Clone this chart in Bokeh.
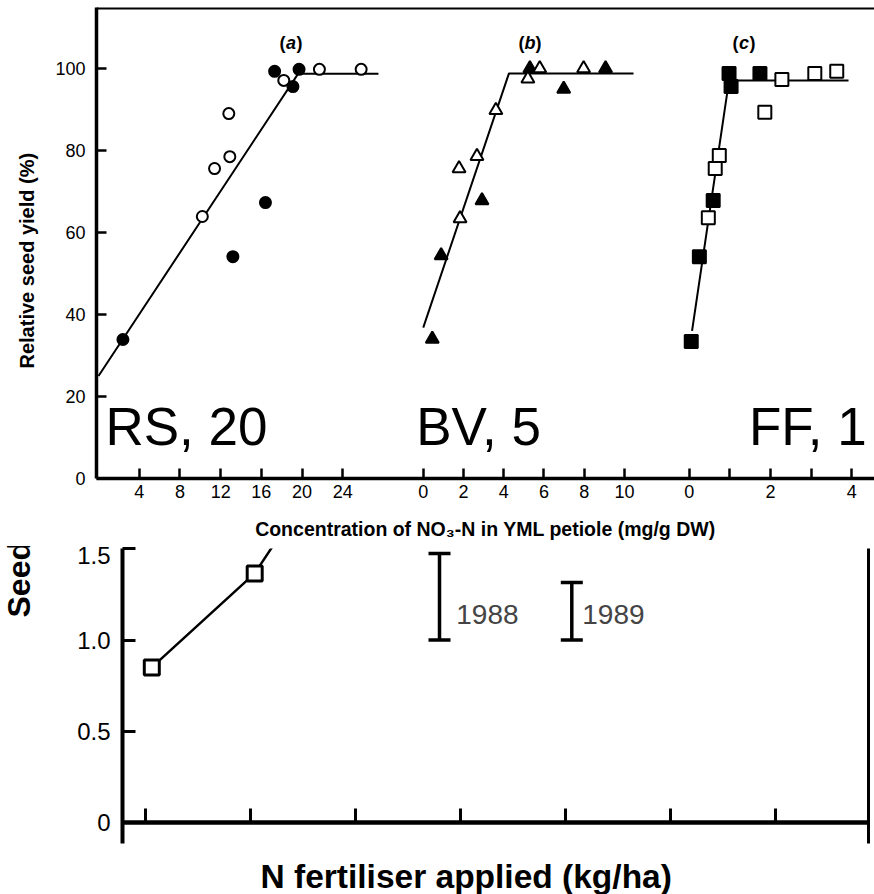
import math
from bokeh.plotting import figure
from bokeh.models import (Range1d, LinearAxis, FixedTicker, Label, Span,
                          Whisker, TeeHead, ColumnDataSource, Title)
from bokeh.embed import file_html
from bokeh.resources import INLINE

# ---------------- data: upper chart ----------------
rs_open_x = [10.2, 11.4, 12.9, 12.8, 18.2, 21.7, 25.8]
rs_open_y = [63.9, 75.6, 78.5, 89.0, 97.1, 99.8, 99.8]
rs_filled_x = [2.4, 13.2, 16.4, 17.3, 19.1, 19.7]
rs_filled_y = [33.9, 54.1, 67.3, 99.3, 95.6, 99.8]
rs_fit_x = [0.0, 19.6, 27.5]
rs_fit_y = [25.0, 98.7, 98.7]

bv_open_x = [1.78, 1.83, 2.67, 3.61, 5.2, 5.79, 7.97]
bv_open_y = [75.6, 63.4, 78.6, 89.8, 97.5, 100.0, 100.0]
bv_filled_x = [0.45, 0.89, 2.92, 5.3, 6.98, 9.06]
bv_filled_y = [34.0, 54.4, 67.8, 100.0, 95.0, 100.0]
bv_fit_x = [0.0, 4.26, 10.45]
bv_fit_y = [36.8, 98.8, 98.8]

ff_open_x = [0.47, 0.64, 0.74, 1.86, 2.28, 3.09, 3.63]
ff_open_y = [63.6, 75.6, 78.8, 89.3, 97.3, 98.8, 99.3]
ff_filled_x = [0.05, 0.25, 0.59, 0.98, 1.03, 1.74]
ff_filled_y = [33.4, 54.1, 67.8, 98.8, 95.6, 98.8]
ff_fit_x = [0.07, 0.98, 3.92]
ff_fit_y = [36.0, 97.1, 97.1]

panel_names = ["RS, 20", "BV, 5", "FF, 1"]
panel_letters = ["a", "b", "c"]
rs_ticks = [4, 8, 12, 16, 20, 24]
rs_tick_labels = ["4", "8", "12", "16", "20", "24"]
bv_ticks = [0, 2, 4, 6, 8, 10]
bv_tick_labels = ["0", "2", "4", "6", "8", "10"]
ff_ticks = [0, 1, 2, 3, 4]
ff_tick_labels = ["0", "", "2", "", "4"]
yield_ticks = [0, 20, 40, 60, 80, 100]
yield_tick_labels = ["0", "20", "40", "60", "80", "100"]

# ---------------- data: lower chart ----------------
n_rate = [3, 52, 100]
seed_yield = [0.85, 1.365, 2.2]
lsd_x = [140, 203]
lsd_upper = [1.474, 1.315]
lsd_lower = [1.0, 1.0]
lsd_years = ["1988", "1989"]
n_ticks = [0, 50, 100, 150, 200, 250, 300]
seed_ticks = [0, 0.5, 1.0, 1.5]
seed_tick_labels = ["0", "0.5", "1.0", "1.5"]

FONT = "Liberation Sans"

# ---------------- layout (upper) ----------------
W = 874
H1 = 546
FRAME_L, FRAME_R = 93, 874
FRAME_T, FRAME_B = 7, 478
PX_PER_PCT = 4.1
P_ORIGIN = [95, 421, 688]      # page px of each panel's x=0
P_SCALE = [10.22, 20.2, 40.8]  # px per unit in each panel


def prange(k):
    o, s = P_ORIGIN[k], P_SCALE[k]
    return Range1d((FRAME_L - o) / s, (FRAME_R - o) / s)


def to_a(k, v):
    px = P_ORIGIN[k] + P_SCALE[k] * v
    return round((px - P_ORIGIN[0]) / P_SCALE[0], 4)


y_end = (FRAME_B - FRAME_T) / PX_PER_PCT
p1 = figure(width=W, height=H1, x_range=prange(0), y_range=Range1d(0, y_end),
            output_backend="svg", toolbar_location=None, title=None,
            min_border_left=FRAME_L, min_border_right=W - FRAME_R, min_border_top=FRAME_T,
            min_border_bottom=H1 - FRAME_B)
p1.extra_x_ranges = {"b": prange(1), "c": prange(2)}
p1.grid.visible = False
p1.outline_line_color = None
p1.background_fill_color = "white"

tick_pos, overrides = [], {}
for k, (ts, ls) in enumerate([(rs_ticks, rs_tick_labels),
                              (bv_ticks, bv_tick_labels),
                              (ff_ticks, ff_tick_labels)]):
    for t, l in zip(ts, ls):
        pos = to_a(k, t)
        tick_pos.append(pos)
        overrides[pos] = l

xa = p1.xaxis[0]
ya = p1.yaxis[0]
xa.ticker = FixedTicker(ticks=tick_pos)
xa.major_label_overrides = overrides
ya.ticker = FixedTicker(ticks=yield_ticks)
ya.major_label_overrides = {t: l for t, l in zip(yield_ticks, yield_tick_labels)}
for ax in (xa, ya):
    ax.major_tick_in = 10
    ax.major_tick_out = 0
    ax.major_tick_line_width = 2.5
    ax.minor_tick_line_color = None
    ax.axis_line_width = 3.5
    ax.major_label_text_font = FONT
    ax.major_label_text_font_size = "18px"
    ax.major_label_text_color = "black"
xa.major_label_standoff = 6
ya.major_label_standoff = 11
xa.axis_label = "Concentration of NO\u2083-N in YML petiole (mg/g DW)"
xa.axis_label_text_font = FONT
xa.axis_label_text_font_style = "bold"
xa.axis_label_text_color = "black"
xa.axis_label_text_font_size = "19.5px"
xa.axis_label_standoff = 17

p1.add_layout(Title(text="Relative seed yield (%)", align="left", offset=110,
                    vertical_align="middle", standoff=28, text_font=FONT,
                    text_font_size="20px", text_font_style="bold", text_color="black"), "left")

p1.add_layout(Span(location=y_end, dimension="width", line_color="black", line_width=4))

series = [
    (None, rs_fit_x, rs_fit_y, rs_open_x, rs_open_y, rs_filled_x, rs_filled_y, "circle", 11),
    ("b", bv_fit_x, bv_fit_y, bv_open_x, bv_open_y, bv_filled_x, bv_filled_y, "triangle", 13),
    ("c", ff_fit_x, ff_fit_y, ff_open_x, ff_open_y, ff_filled_x, ff_filled_y, "square", 13),
]
for rname, fx, fy, ox, oy, bx, by, mk, sz in series:
    kw = {} if rname is None else {"x_range_name": rname}
    p1.line(fx, fy, line_color="black", line_width=2, **kw)
    p1.scatter(bx, by, marker=mk, size=sz, fill_color="black", line_color="black",
               line_width=2, **kw)
    p1.scatter(ox, oy, marker=mk, size=sz, fill_color="white", line_color="black",
               line_width=2, **kw)

# panel names (anchored at the middle of the capitals)
name_x = [0.68, -0.35, 1.47]
name_y = 12.68
rnames = ["default", "b", "c"]
for k in range(3):
    p1.add_layout(Label(x=name_x[k], y=name_y, x_range_name=rnames[k], text=panel_names[k],
                        text_font=FONT, text_font_size="53px", text_color="black",
                        text_align="left", text_baseline="middle"))

# panel letters (a) (b) (c)
letter_x = [18.9, 5.3, 1.35]
letter_y = 106.1
for k in range(3):
    common = dict(x=letter_x[k], y=letter_y, x_range_name=rnames[k], text_font=FONT,
                  text_font_size="18px", text_color="black", text_baseline="middle")
    p1.add_layout(Label(text=panel_letters[k], text_font_style="bold italic",
                        text_align="center", **common))
    p1.add_layout(Label(text="(", text_font_style="bold", text_align="right",
                        x_offset=-5.5, **common))
    p1.add_layout(Label(text=")", text_font_style="bold", text_align="left",
                        x_offset=5.5, **common))

# ---------------- lower chart ----------------
H2 = 894 - H1
L2_L, L2_R, L2_T, L2_B = 122, 868, 548, 843
x0_px, px_per_n = 145, 2.1
y0_px, px_per_t = 822, 182.5
p2 = figure(width=W, height=H2,
            x_range=Range1d((L2_L - x0_px) / px_per_n, (L2_R - x0_px) / px_per_n),
            y_range=Range1d((y0_px - L2_B) / px_per_t, (y0_px - L2_T) / px_per_t),
            output_backend="svg", toolbar_location=None, title=None,
            min_border_left=L2_L, min_border_right=W - L2_R,
            min_border_top=L2_T - H1, min_border_bottom=894 - L2_B)
p2.grid.visible = False
p2.outline_line_color = None

xb = p2.xaxis[0]
xb.fixed_location = 0
xb.ticker = FixedTicker(ticks=n_ticks)
xb.major_label_overrides = {t: "" for t in n_ticks}
xb.major_label_standoff = 0
xb.major_tick_in = 14
xb.major_tick_out = 0
xb.major_tick_line_width = 3
xb.minor_tick_line_color = None
xb.axis_line_width = 4.5

# blank spacer axis below the frame (invisible tick), so the x title sits lower
spacer = LinearAxis(ticker=FixedTicker(ticks=[n_ticks[0]]), axis_line_color=None,
                    major_label_overrides={n_ticks[0]: ""},
                    major_tick_line_color=None, minor_tick_line_color=None,
                    major_tick_out=12, minor_tick_out=0, major_tick_in=0, minor_tick_in=0,
                    major_label_standoff=0)
p2.add_layout(spacer, "below")
p2.add_layout(Title(text="N fertiliser applied (kg/ha)", align="left", offset=138,
                    standoff=0, vertical_align="bottom", text_font=FONT,
                    text_font_size="33.5px", text_font_style="bold", text_color="black"),
              "below")

yb = p2.yaxis[0]
yb.ticker = FixedTicker(ticks=seed_ticks)
yb.major_label_overrides = {t: l for t, l in zip(seed_ticks, seed_tick_labels)}
yb.major_label_text_font = FONT
yb.major_label_text_font_size = "24px"
yb.major_label_text_color = "black"
yb.major_label_standoff = 12
yb.major_tick_in = 13
yb.major_tick_out = 0
yb.major_tick_line_width = 3
yb.minor_tick_line_color = None
yb.axis_line_width = 4

ra = LinearAxis(ticker=FixedTicker(ticks=[]), major_label_standoff=0,
                major_tick_line_color=None, minor_tick_line_color=None, axis_line_width=3)
p2.add_layout(ra, "right")

p2.line(n_rate, seed_yield, line_color="black", line_width=2.5)
p2.scatter(n_rate, seed_yield, marker="square", size=15, fill_color="white",
           line_color="black", line_width=3)

src = ColumnDataSource(dict(base=lsd_x, upper=lsd_upper, lower=lsd_lower))
p2.add_layout(Whisker(source=src, base="base", upper="upper", lower="lower",
                      dimension="height", line_color="black", line_width=3.5,
                      upper_head=TeeHead(size=22, line_width=3.5, line_color="black"),
                      lower_head=TeeHead(size=22, line_width=3.5, line_color="black")))
year_x = [148, 208]
for xx, yr in zip(year_x, lsd_years):
    p2.add_layout(Label(x=xx, y=1.14, text=yr, text_font=FONT, text_font_size="28px",
                        text_align="left", text_baseline="middle"))

p2.add_layout(Title(text="Seed yield (t/ha)\n", align="left", offset=226, standoff=0,
                    vertical_align="top", text_font=FONT, text_font_size="32px",
                    text_font_style="bold", text_color="black"), "left")

open("out.html", "w").write(file_html([p1, p2], INLINE))
